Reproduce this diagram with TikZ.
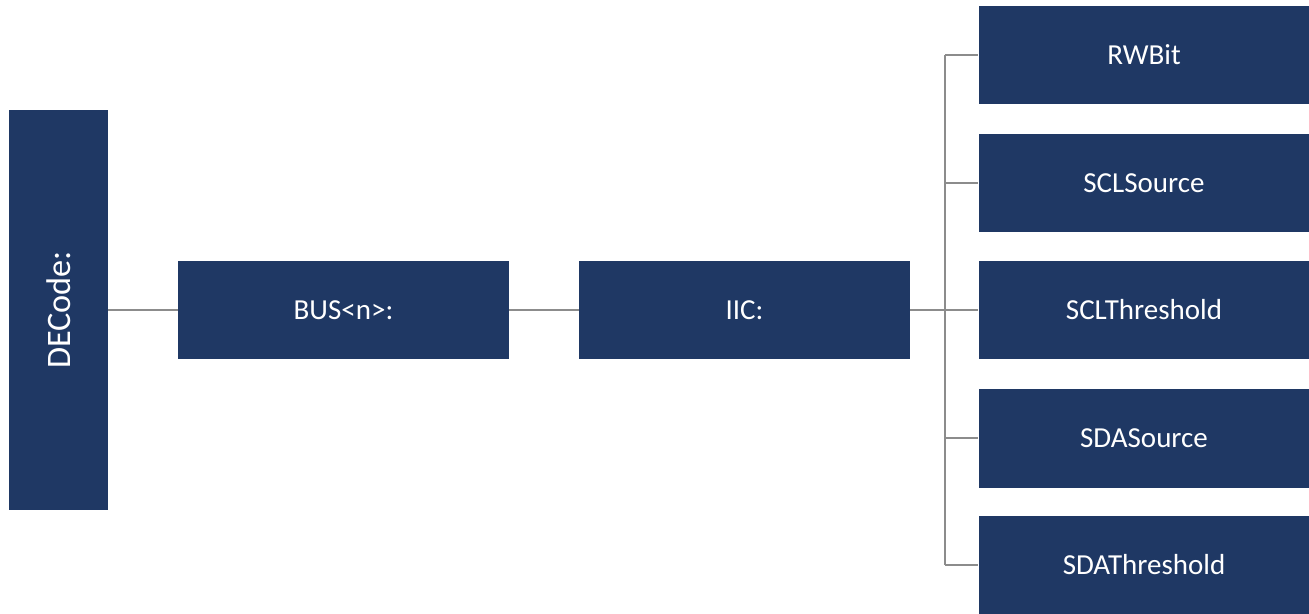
\documentclass[tikz,border=0pt]{standalone}
\usepackage{fontspec}
\setmainfont{Carlito}
\usepackage{tikz}
\usepackage{xcolor}
\definecolor{navy}{HTML}{1F3864}
\definecolor{wire}{HTML}{8C8C8C}

\begin{document}
\begin{tikzpicture}[x=0.02cm,y=-0.02cm]
	\tikzstyle{box} = [fill=navy, text=white, inner sep=0pt, font=\fontsize{16.5}{20}\selectfont]
	\tikzstyle{wide} = [box, minimum width=6.62cm, minimum height=1.98cm]
	\tikzstyle{edge} = [draw=wire, line width=0.9pt]
	\useasboundingbox (0,0) rectangle (1309,613);
		\node[box, rotate=90, minimum width=8cm, minimum height=1.98cm, font=\fontsize{19.5}{23}\selectfont] (decode) at (58.5,310) {DECode:};
		\node[wide] (bus) at (343.5,310) {BUS<n>:};
		\node[wide] (iic) at (744.5,310) {IIC:};
		\node[wide] (rw) at (1144,55)  {RWBit};
		\node[wide] (sclsrc) at (1144,183) {SCLSource};
		\node[wide] (sclth) at (1144,310) {SCLThreshold};
		\node[wide] (sdasrc) at (1144,438) {SDASource};
		\node[wide] (sdath) at (1144,565) {SDAThreshold};
		\coordinate (top) at (945,55);
		\coordinate (mid) at (945,310);
		\coordinate (bot) at (945,565);
	\draw[edge] (decode.south) -- (bus);
	\draw[edge] (bus) -- (iic);
	\draw[edge] (iic) -- (mid);
	\draw[edge] (top) -- (bot);
	\draw[edge] (top) -- (rw);
	\draw[edge] (sclsrc.west -| mid) -- (sclsrc);
	\draw[edge] (mid) -- (sclth);
	\draw[edge] (sdasrc.west -| mid) -- (sdasrc);
	\draw[edge] (bot) -- (sdath);
\end{tikzpicture}
\end{document}
